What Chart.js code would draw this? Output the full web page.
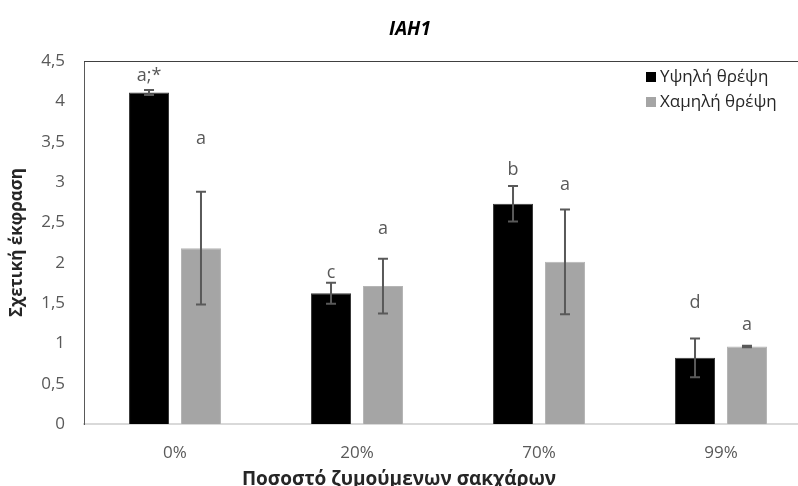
<!DOCTYPE html>
<html>
<head>
<meta charset="utf-8">
<script src="https://cdn.jsdelivr.net/npm/chart.js@4.4.1/dist/chart.umd.min.js"></script>
<style>
    html, body { margin: 0; padding: 0; background: #fff; overflow: hidden; }
    #wrap { width: 812px; height: 486px; }
</style>
</head>
<body>
<div id="wrap"><canvas id="chart" width="812" height="486"></canvas></div>
<script>
// data
var categories = ['0%', '20%', '70%', '99%'];
var seriesNames = ['Υψηλή θρέψη', 'Χαμηλή θρέψη'];
var highValues = [4.11, 1.62, 2.73, 0.82];
var highErrors = [0.03, 0.13, 0.22, 0.24];
var lowValues = [2.18, 1.71, 2.01, 0.96];
var lowErrors = [0.70, 0.34, 0.65, 0.01];
// significance letters and the level (in y units) they sit at
var highLetters = ['a;*', 'c', 'b', 'd'];
var lowLetters = ['a', 'a', 'a', 'a'];
var highLetterLevels = [4.32, 1.87, 3.15, 1.50];
var lowLetterLevels = [3.53, 2.42, 2.96, 1.23];
var yMin = 0, yMax = 4.5, yStep = 0.5;

var FONT = '"Open Sans", "DejaVu Sans", sans-serif';

var extrasPlugin = {
    id: 'extras',
    afterDatasetsDraw: function (chart) {
        var ctx = chart.ctx;
        var yScale = chart.scales.y;
        var area = chart.chartArea;
        var errs = [highErrors, lowErrors];
        var letters = [highLetters, lowLetters];
        var levels = [highLetterLevels, lowLetterLevels];

        ctx.save();
        // top border of the plot area
        ctx.strokeStyle = '#404040';
        ctx.lineWidth = 1;
        ctx.beginPath();
        ctx.moveTo(area.left, area.top + 0.5);
        ctx.lineTo(area.right, area.top + 0.5);
        ctx.stroke();

        chart.data.datasets.forEach(function (ds, i) {
            var meta = chart.getDatasetMeta(i);
            meta.data.forEach(function (bar, j) {
                var v = ds.data[j];
                var e = errs[i][j];
                var yTop = yScale.getPixelForValue(v + e);
                var yBot = yScale.getPixelForValue(v - e);
                ctx.strokeStyle = '#595959';
                ctx.lineWidth = 2;
                ctx.beginPath();
                ctx.moveTo(bar.x, yTop);
                ctx.lineTo(bar.x, yBot);
                ctx.moveTo(bar.x - 5, yTop);
                ctx.lineTo(bar.x + 5, yTop);
                ctx.moveTo(bar.x - 5, yBot);
                ctx.lineTo(bar.x + 5, yBot);
                ctx.stroke();

                ctx.fillStyle = '#595959';
                ctx.font = '18px ' + FONT;
                ctx.textAlign = 'center';
                ctx.textBaseline = 'middle';
                ctx.fillText(letters[i][j], bar.x, yScale.getPixelForValue(levels[i][j]));
            });
        });

        // legend in the top right corner
        ctx.font = '17px ' + FONT;
        ctx.textAlign = 'left';
        ctx.textBaseline = 'middle';
        chart.data.datasets.forEach(function (ds, i) {
            var ly = 77 + i * 25;
            ctx.fillStyle = ds.backgroundColor;
            ctx.fillRect(646, ly - 5, 10, 10);
            ctx.fillStyle = '#262626';
            ctx.fillText(ds.label, 660, ly);
        });

        // title and x axis title
        ctx.fillStyle = '#000';
        ctx.textAlign = 'center';
        ctx.font = 'italic bold 19px ' + FONT;
        ctx.fillText('IAH1', 410, 30);
        ctx.fillStyle = '#262626';
        ctx.font = 'bold 19px ' + FONT;
        ctx.textBaseline = 'alphabetic';
        ctx.fillText('Ποσοστό ζυμούμενων σακχάρων', 399, 485);
        ctx.restore();
    }
};

var chart = new Chart(document.getElementById('chart'), {
    type: 'bar',
    data: {
        labels: categories,
        datasets: [
            {
                label: seriesNames[0],
                data: highValues,
                backgroundColor: '#000000',
                borderColor: '#3a3a3a',
                borderWidth: 1,
                categoryPercentage: 0.571,
                barPercentage: 0.77
            },
            {
                label: seriesNames[1],
                data: lowValues,
                backgroundColor: '#a5a5a5',
                borderColor: '#b5b5b5',
                borderWidth: 1,
                categoryPercentage: 0.571,
                barPercentage: 0.77
            }
        ]
    },
    options: {
        responsive: false,
        animation: false,
        layout: { padding: { top: 61, left: 0, right: 0, bottom: 0 } },
        plugins: {
            legend: { display: false },
            title: { display: false },
            tooltip: { enabled: false }
        },
        scales: {
            x: {
                grid: { display: false, drawTicks: false },
                border: { display: true, color: '#d9d9d9', width: 2 },
                ticks: { color: '#595959', font: { family: FONT, size: 17 }, padding: 19 },
                afterFit: function (scale) { scale.height = 62; }
            },
            y: {
                min: yMin,
                max: yMax,
                grid: { display: false, drawTicks: false },
                border: { display: true, color: '#595959', width: 1 },
                ticks: {
                    stepSize: yStep,
                    color: '#595959',
                    font: { family: FONT, size: 17 },
                    padding: 19,
                    callback: function (v) { return String(v).replace('.', ','); }
                },
                title: {
                    display: true,
                    text: 'Σχετική έκφραση',
                    color: '#262626',
                    font: { family: FONT, size: 17, weight: 'bold' },
                    padding: { top: 7, bottom: 0 }
                },
                afterFit: function (scale) { scale.width = 84; }
            }
        }
    },
    plugins: [extrasPlugin]
});
</script>
</body>
</html>
